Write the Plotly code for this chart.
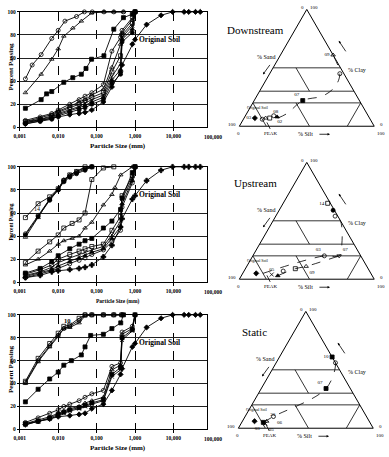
import plotly.graph_objects as go

W, H = 389, 457
SERIF = "Liberation Serif, Times New Roman, serif"

def fx(p):
    return p / W

def fy(p):
    return 1 - p / H

# ---------------- Grain-size data ----------------
TICK_VALS = [0.001, 0.01, 0.1, 1, 10]
TICK_TEXT = ["0,001", "0,010", "0,100", "1,000", "10,000"]
LAST_TICK = "100,000"

HX = [0.0014, 0.0034, 0.0068, 0.01, 0.02, 0.035, 0.05, 0.075, 0.15, 0.25, 0.42, 0.46, 0.85, 1.0]
ORIG_X = [0.0014, 0.0034, 0.0068, 0.01, 0.02, 0.035, 0.05, 0.075, 0.15, 0.25, 0.42, 0.46, 0.85, 1.0,
          2.0, 4.75, 9.5, 19, 25, 37.5, 50]
ORIG_Y = [3, 6, 8, 9, 11, 12, 13, 15, 22, 35, 48, 54, 72, 76, 89, 97, 100, 100, 100, 100, 100]

# Downstream
DS_09_X = [0.0014, 0.0021, 0.0036, 0.0068, 0.01, 0.015, 0.03, 0.048, 0.077, 0.155, 0.28, 0.5]
DS_09_Y = [42, 54, 63, 77, 84, 92, 96, 100, 100, 100, 100, 100]
DS_08_X = [0.0014, 0.0036, 0.0068, 0.01, 0.014, 0.024, 0.04, 0.074, 0.155, 0.28, 0.5]
DS_08_Y = [30, 46, 59, 68, 79, 86, 92, 99, 100, 100, 100]
DS_07_X = [0.0014, 0.0036, 0.005, 0.0068, 0.014, 0.024, 0.04, 0.053, 0.074, 0.155, 0.28, 0.5, 0.85, 1.0]
DS_07_Y = [16.5, 24, 29, 31, 39, 43, 46, 51, 59, 62, 85, 95, 98, 100]
DS_C1_Y = [6, 9, 12, 15, 20, 24, 27, 30, 37, 66, 78, 84, 95, 100]
DS_C2_Y = [5, 8, 11, 14, 18, 22, 24, 28, 33, 52, 72, 82, 93, 100]
DS_C3_Y = [5, 7, 10, 13, 17, 20, 23, 26, 30, 48, 62, 80, 90, 100]
DS_C4_Y = [4, 7, 9, 12, 15, 18, 21, 24, 28, 44, 55, 78, 88, 100]
DS_C5_Y = [4, 6, 8, 11, 14, 17, 19, 22, 26, 41, 50, 76, 85, 100]
DS_C6_Y = [3, 5, 7, 10, 13, 15, 17, 20, 24, 38, 46, 74, 82, 100]

# Upstream
UX_HI = [0.0014, 0.003, 0.006, 0.01, 0.014, 0.02, 0.03, 0.05, 0.075]
US_14_Y = [56, 68, 74, 81, 88, 93, 96, 100, 100]
US_H2_Y = [42, 58, 72, 80, 88, 92, 95, 98, 100]
US_H3_Y = [41, 57, 71, 80, 87, 91, 94, 97, 100]
US_H4_Y = [39, 56, 72, 81, 89, 93, 96, 99, 100]
US_M1_X = [0.0014, 0.003, 0.006, 0.01, 0.014, 0.023, 0.035, 0.05, 0.075, 0.15, 0.28]
US_M1_Y = [17, 27, 35, 41, 47, 51, 54, 60, 89, 99, 100]
US_M2_X = [0.0014, 0.003, 0.006, 0.01, 0.014, 0.023, 0.035, 0.05, 0.075, 0.15, 0.25, 0.3, 0.425, 0.85]
US_M2_Y = [15, 20, 27, 33, 36, 38, 40, 47, 52, 67, 76, 82, 93, 100]
US_L1_Y = [8, 12, 18, 23, 29, 33, 36, 38, 47, 53, 63, 73, 95, 100]
US_L2_Y = [7, 11, 15, 20, 24, 27, 29, 31, 33, 45, 57, 75, 92, 100]
US_L3_Y = [6, 9, 13, 17, 21, 24, 26, 28, 31, 41, 53, 72, 90, 100]
US_L4_Y = [5, 8, 11, 14, 18, 21, 23, 26, 29, 38, 48, 68, 88, 100]
US_L5_Y = [4, 7, 10, 12, 16, 19, 21, 24, 28, 35, 45, 65, 86, 100]
US_ORIG_Y = [4, 6, 9, 10, 11, 12, 13, 15, 22, 32, 48, 55, 72, 75, 88, 97, 100, 100, 100, 100, 100]

# Static
SX_HI = [0.0014, 0.003, 0.006, 0.01, 0.014, 0.02, 0.035, 0.05, 0.075, 0.15, 0.28, 0.45]
ST_10_Y = [42, 62, 75, 84, 90, 91, 97, 100, 100, 100, 100, 100]
ST_H2_Y = [41, 60, 73, 82, 88, 90, 95, 100, 100, 100, 100, 100]
ST_H3_Y = [40, 59, 72, 81, 88, 89, 93, 99, 100, 100, 100, 100]
ST_07_X = [0.0014, 0.003, 0.006, 0.01, 0.014, 0.022, 0.04, 0.05, 0.07, 0.15, 0.25, 0.425, 0.5]
ST_07_Y = [24, 35, 44, 50, 56, 60, 65, 72, 82, 83, 88, 93, 100]
SX_LO = [0.0014, 0.003, 0.006, 0.01, 0.014, 0.02, 0.035, 0.05, 0.075, 0.15, 0.25, 0.42, 0.46, 0.85, 1.0]
ST_06_Y = [6, 10, 14, 17, 20, 22, 25, 28, 31, 34, 55, 58, 85, 90, 100]
ST_L2_Y = [5, 8, 11, 14, 16, 18, 20, 23, 25, 28, 52, 56, 83, 88, 100]
ST_L3_Y = [5, 7, 10, 13, 15, 17, 19, 21, 23, 26, 48, 54, 80, 87, 100]
ST_L4_Y = [4, 7, 9, 12, 14, 16, 18, 20, 22, 25, 46, 52, 78, 86, 100]
ST_ORIG_X = [0.0014, 0.003, 0.006, 0.01, 0.02, 0.035, 0.05, 0.075, 0.15, 0.25, 0.42, 0.46, 0.85, 1.0,
             2.0, 4.75, 9.5, 19, 25, 37.5, 50]
ST_ORIG_Y = [4, 7, 9, 11, 12, 13, 14, 18, 22, 34, 48, 53, 72, 75, 89, 97, 100, 100, 100, 100, 100]

# ---------------- Ternary data (clay, sand, silt) ----------------
DS_CLAY = [7, 6, 7, 7, 9, 8, 22, 45, 61]
DS_SAND = [85, 80, 77, 74, 70, 68, 42, 3, 0]
DS_SILT = [8, 14, 16, 19, 21, 24, 36, 52, 39]
DS_SYM = ["diamond", "circle-open", "triangle-up-open", "square-open", "circle-open",
          "triangle-up", "square", "circle-open", "triangle-up-open"]
DS_TXT = ["03", "", "", "08", "02", "", "07", "", "09"]
DS_POS = ["middle left", "top center", "top center", "top right", "bottom right",
          "top right", "top left", "top center", "middle left"]
DS_PATH_CLAY = [7, 11, 22, 26, 34, 45, 61]
DS_PATH_SAND = [68, 59, 42, 25, 12, 3, 0]
DS_PATH_SILT = [25, 30, 36, 49, 54, 52, 39]

US_CLAY = [65, 59, 54, 20, 20, 11, 9, 7, 3, 4, 5]
US_SAND = [2, 1, 2, 16, 27, 45, 54, 64, 70, 74, 85]
US_SILT = [33, 40, 44, 64, 53, 44, 37, 29, 27, 22, 10]
US_SYM = ["square-open", "circle", "circle-open", "triangle-down-open", "circle-open",
          "triangle-up-open", "square-open", "circle-open", "triangle-up", "x-thin-open", "diamond"]
US_TXT = ["14", "", "", "07", "03", "09", "", "", "05", "", ""]
US_POS = ["middle left", "top center", "top center", "top right", "top left", "bottom right",
          "top center", "top center", "top left", "bottom left", "top center"]
US_PATH1_CLAY = [5, 20, 20, 30, 50, 59]
US_PATH1_SAND = [80, 27, 16, 9, 0, 1]
US_PATH1_SILT = [15, 53, 64, 61, 50, 40]
US_PATH2_CLAY = [3, 9, 11, 20]
US_PATH2_SAND = [70, 54, 45, 16]
US_PATH2_SILT = [27, 37, 44, 64]

ST_CLAY = [61, 56, 34, 10, 6, 5, 4, 6]
ST_SAND = [0, 0, 18, 69, 76, 79, 78, 85]
ST_SILT = [39, 44, 48, 21, 18, 16, 18, 9]
ST_SYM = ["square", "circle-open", "square", "circle-open", "triangle-up-open", "square",
          "x-thin-open", "diamond"]
ST_TXT = ["10", "", "07", "06", "20", "03", "05", ""]
ST_POS = ["middle left", "top center", "top left", "bottom right", "top right", "bottom left",
          "bottom right", "top center"]
ST_PATH_CLAY = [5, 10, 34, 56, 61]
ST_PATH_SAND = [79, 69, 18, 0, 0]
ST_PATH_SILT = [16, 21, 48, 44, 39]

# classification boundaries: (start clay, sand, silt), (end clay, sand, silt)
CLASS_LINES = [
    ((50, 50, 0), (50, 0, 50)),
    ((30, 70, 0), (30, 0, 70)),
    ((20, 80, 0), (20, 0, 80)),
    ((50, 33, 17), (30, 33, 37)),
    ((20, 48, 32), (0, 48, 52)),
    ((20, 0, 80), (0, 20, 80)),
    ((20, 80, 0), (0, 80, 20)),
]

fig = go.Figure()

def add_curve(i, x, y, sym):
    suffix = "" if i == 1 else str(i)
    fig.add_trace(go.Scatter(
        x=x, y=y, mode="lines+markers", xaxis="x" + suffix, yaxis="y" + suffix,
        line=dict(color="black", width=0.9),
        marker=dict(symbol=sym, size=4, color="black", line=dict(color="black", width=0.8)),
        cliponaxis=False, showlegend=False, hoverinfo="skip"))

# Panel 1
add_curve(1, DS_09_X, DS_09_Y, "circle-open")
add_curve(1, DS_08_X, DS_08_Y, "triangle-up-open")
add_curve(1, DS_07_X, DS_07_Y, "square")
for yy, s in [(DS_C1_Y, "circle-open"), (DS_C2_Y, "triangle-up-open"), (DS_C3_Y, "square-open"),
              (DS_C4_Y, "x-thin-open"), (DS_C5_Y, "triangle-up"), (DS_C6_Y, "circle")]:
    add_curve(1, HX, yy, s)
add_curve(1, ORIG_X, ORIG_Y, "diamond")

# Panel 2
add_curve(2, UX_HI, US_14_Y, "square-open")
add_curve(2, UX_HI, US_H2_Y, "circle-open")
add_curve(2, UX_HI, US_H3_Y, "circle")
add_curve(2, UX_HI, US_H4_Y, "triangle-up-open")
add_curve(2, US_M1_X, US_M1_Y, "square-open")
add_curve(2, US_M2_X, US_M2_Y, "triangle-up-open")
for yy, s in [(US_L1_Y, "square"), (US_L2_Y, "square-open"), (US_L3_Y, "x-thin-open"),
              (US_L4_Y, "triangle-up"), (US_L5_Y, "circle-open")]:
    add_curve(2, HX, yy, s)
add_curve(2, ORIG_X, US_ORIG_Y, "cross")

# Panel 3
add_curve(3, SX_HI, ST_10_Y, "square-open")
add_curve(3, SX_HI, ST_H2_Y, "circle-open")
add_curve(3, SX_HI, ST_H3_Y, "triangle-up-open")
add_curve(3, ST_07_X, ST_07_Y, "square")
for yy, s in [(ST_06_Y, "circle-open"), (ST_L2_Y, "triangle-up-open"), (ST_L3_Y, "square"),
              (ST_L4_Y, "x-thin-open")]:
    add_curve(3, SX_LO, yy, s)
add_curve(3, ST_ORIG_X, ST_ORIG_Y, "diamond")

# ---- ternary traces ----
def add_tern(k, clay, sand, silt, syms, txt, pos, paths):
    sub = "ternary" if k == 1 else "ternary" + str(k)
    for p0, p1 in CLASS_LINES:
        fig.add_trace(go.Scatterternary(
            a=[p0[0], p1[0]], b=[p0[1], p1[1]], c=[p0[2], p1[2]], mode="lines", subplot=sub,
            line=dict(color="black", width=0.8), showlegend=False, hoverinfo="skip"))
    for pa, pb, pc in paths:
        fig.add_trace(go.Scatterternary(
            a=pa, b=pb, c=pc, mode="lines", subplot=sub,
            line=dict(color="black", width=0.8, dash="dash", shape="spline"),
            showlegend=False, hoverinfo="skip"))
    fig.add_trace(go.Scatterternary(
        a=clay, b=sand, c=silt, mode="markers+text", subplot=sub,
        text=txt, textposition=pos, textfont=dict(size=5, family=SERIF, color="black"),
        marker=dict(symbol=syms, size=4, color="black", line=dict(color="black", width=0.8)),
        cliponaxis=False, showlegend=False, hoverinfo="skip"))

add_tern(1, DS_CLAY, DS_SAND, DS_SILT, DS_SYM, DS_TXT, DS_POS,
         [(DS_PATH_CLAY, DS_PATH_SAND, DS_PATH_SILT)])
add_tern(2, US_CLAY, US_SAND, US_SILT, US_SYM, US_TXT, US_POS,
         [(US_PATH1_CLAY, US_PATH1_SAND, US_PATH1_SILT), (US_PATH2_CLAY, US_PATH2_SAND, US_PATH2_SILT)])
add_tern(3, ST_CLAY, ST_SAND, ST_SILT, ST_SYM, ST_TXT, ST_POS,
         [(ST_PATH_CLAY, ST_PATH_SAND, ST_PATH_SILT)])

# ---------------- layout ----------------
panel_y = [(9, 126), (166, 283), (316, 432)]
tern_dom = [((237, 374), (6.4, 125)), ((237, 374), (161.4, 280)), ((236, 373), (312.4, 431))]

layout = dict(width=W, height=H, margin=dict(l=0, r=0, t=0, b=0),
              paper_bgcolor="white", plot_bgcolor="white", showlegend=False,
              font=dict(family=SERIF, color="black"))
annots = []

def ann(px, py, t, size=5, angle=0):
    annots.append(dict(x=fx(px), y=fy(py), xref="paper", yref="paper", text=t, showarrow=False,
                       xanchor="center", yanchor="middle", textangle=angle,
                       font=dict(size=size, family=SERIF, color="black")))

def arrow(hx, hy, tx, ty, head=2):
    annots.append(dict(x=fx(hx), y=fy(hy), xref="paper", yref="paper", text="",
                       showarrow=True, arrowhead=head, arrowsize=0.6, arrowwidth=0.8,
                       ax=tx - hx, ay=ty - hy, arrowcolor="black"))

ax_font = [7, 5.5, 7]
for i, (ytop, ybot) in enumerate(panel_y):
    sfx = "" if i == 0 else str(i + 1)
    layout["xaxis" + sfx] = dict(
        type="log", range=[-3, 1.87], domain=[fx(14), fx(204)], anchor="y" + sfx,
        tickvals=TICK_VALS, ticktext=["<b>%s</b>" % t for t in TICK_TEXT],
        tickfont=dict(size=5.5, family=SERIF), ticks="outside", ticklen=3, tickcolor="black",
        showgrid=True, gridcolor="black", gridwidth=0.8, griddash="dash",
        showline=True, linecolor="black", linewidth=1, mirror=True, zeroline=False)
    layout["yaxis" + sfx] = dict(
        range=[0, 100], domain=[fy(ybot), fy(ytop)], anchor="x" + sfx,
        tickvals=[0, 20, 40, 60, 80, 100],
        ticktext=["<b>%d</b>" % v for v in [0, 20, 40, 60, 80, 100]],
        tickfont=dict(size=5.5, family=SERIF), ticks="outside", ticklen=2, tickcolor="black",
        showgrid=True, gridcolor="#222", gridwidth=1.3,
        showline=True, linecolor="black", linewidth=1, mirror=True, zeroline=False)
    ann(210, ybot + 10, "<b>%s</b>" % LAST_TICK, 5.5)
    ann(114, ybot + 19, "<b>Particle Size (mm)</b>", ax_font[i])
    ann(5, (ytop + ybot) / 2 - 3, "<b>Percent Passing</b>", ax_font[i], -90)
    ann(156, ytop + 28, "<b>Original Soil</b>", 7.5)

ann(31, 209, "14", 6)
ann(62, 322, "<b>10</b>", 6.5)

tern_titles = ["Downstream", "Upstream", "Static"]
for i, ((x0, x1), (y0, y1)) in enumerate(tern_dom):
    sfx = "" if i == 0 else str(i + 1)
    axis = dict(showticklabels=False, ticks="", showgrid=False, linecolor="black",
                linewidth=1, title=dict(text=""))
    layout["ternary" + sfx] = dict(
        domain=dict(x=[fx(x0), fx(x1)], y=[fy(y1), fy(y0)]), sum=100,
        bgcolor="rgba(0,0,0,0)", aaxis=axis, baxis=axis, caxis=axis)
    top_x = (x0 + x1) / 2
    h = (x1 - x0) * 0.8660254
    top_y = y1 - h
    ann(top_x - 4, top_y - 2, "0")
    ann(top_x + 7, top_y - 2, "100")
    ann(x0 - 7, y1 - 2, "100")
    ann(x0 - 1, y1 + 7, "0")
    ann(x1 + 7, y1 - 2, "0")
    ann(x1 + 7, y1 + 7, "100")
    ann(x0 + 16, top_y + 21, tern_titles[i], 11)
    ann(x0 + 28, top_y + 48, "% Sand", 6)
    ann(x1 - 17, top_y + 62, "% Clay", 6)
    ann(x0 + 67, y1 + 8, "% Silt", 6)
    ann(x0 + 32, y1 + 7, "PEAK", 5)
    ann(x0 + 19, y1 - 19, "Original Soil", 4)
    arrow(x0 + 24, top_y + 66, x0 + 32, top_y + 55)
    arrow(x1 - 36, top_y + 32, x1 - 28, top_y + 44)
    arrow(x0 + 92, y1 + 8, x0 + 80, y1 + 8)
    arrow(x0 + 28, y1 - 4, x0 + 32, y1 + 4, head=0)

layout["annotations"] = annots
fig.update_layout(**layout)
fig.write_html("out.html")
